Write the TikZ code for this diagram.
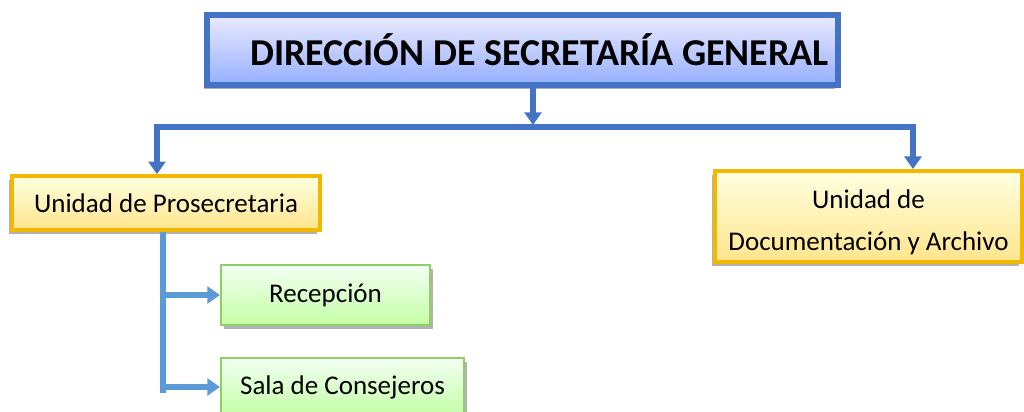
\documentclass[tikz,border=0pt]{standalone}
\usepackage{fontspec}
\setmainfont{Carlito}
\usetikzlibrary{arrows.meta,shadows}
\definecolor{dirBlue}{HTML}{4472C4}
\definecolor{subBlue}{HTML}{5B9BD5}
\definecolor{unitGold}{HTML}{F2B800}
\definecolor{unitGreen}{HTML}{8FCF6A}

\tikzset{
  boxshadow/.style={drop shadow={shadow xshift=-2pt, shadow yshift=-3pt, fill=black, opacity=0.3}},
  dirbox/.style={draw=dirBlue, line width=4.5pt, top color=blue!8!white, bottom color=blue!35!white!90!cyan,
    minimum width=15.78cm, minimum height=1.75cm, inner sep=0pt, boxshadow,
    font=\fontsize{27}{32}\selectfont\bfseries},
  unitbox/.style={draw=unitGold, line width=2.6pt, top color=yellow!12!white, bottom color=yellow!55!orange!45!white,
    inner sep=0pt, boxshadow, font=\fontsize{19.2}{30}\selectfont, align=center},
  areabox/.style={draw=unitGreen, line width=1.3pt, top color=green!5!white, bottom color=green!55!lime!35!white,
    inner sep=0pt, drop shadow={shadow xshift=2pt, shadow yshift=-2.5pt, fill=black, opacity=0.3},
    font=\fontsize{19.2}{22}\selectfont},
  mainline/.style={draw=dirBlue, line width=4.3pt},
  mainarrow/.style={mainline, -{Triangle[width=12pt,length=9pt]}},
  subline/.style={draw=subBlue, line width=4.6pt},
  subarrow/.style={subline, -{Triangle[width=12pt,length=9pt]}}
}

\begin{document}
\begin{tikzpicture}[x=0.025cm, y=-0.025cm]
  \useasboundingbox (0,0) rectangle (1024,412);
  % boxes
  \node[dirbox] (dir) at (522.5,50) {\hspace*{0.85cm}DIRECCIÓN DE SECRETARÍA GENERAL};
  \node[unitbox, minimum width=7.7cm, minimum height=1.35cm] (pros) at (166,203) {Unidad de Prosecretaria};
  \node[unitbox, minimum width=7.68cm, minimum height=2.28cm] (doc) at (868.5,216.5) {\rule{0pt}{22pt}Unidad de\\Documentación y Archivo};
  \node[areabox, minimum width=5.23cm, minimum height=1.5cm] (rec) at (325.5,295) {Recepción};
  \node[areabox, minimum width=6.08cm, minimum height=1.45cm] (sala) at (342.5,387) {Sala de Consejeros};
  % bus from the direction to the two units
  \coordinate (bus) at (533,127);
  \coordinate (busl) at (157,127);
  \coordinate (busr) at (913,127);
  \draw[mainarrow] (dir.south -| bus) -- ([yshift=0.05cm]bus);
  \draw[mainline, line cap=rect] (busl) -- (busr);
  \draw[mainarrow] (busl) -- (busl |- pros.north);
  \draw[mainarrow] (busr) -- (busr |- doc.north);
  % branch under Prosecretaria
  \coordinate (stem) at (163,393);
  \draw[subline] (stem |- pros.south) -- (stem);
  \draw[subarrow] (stem |- rec.west) -- (rec.west);
  \draw[subarrow] (stem |- sala.west) -- (sala.west);
\end{tikzpicture}
\end{document}
